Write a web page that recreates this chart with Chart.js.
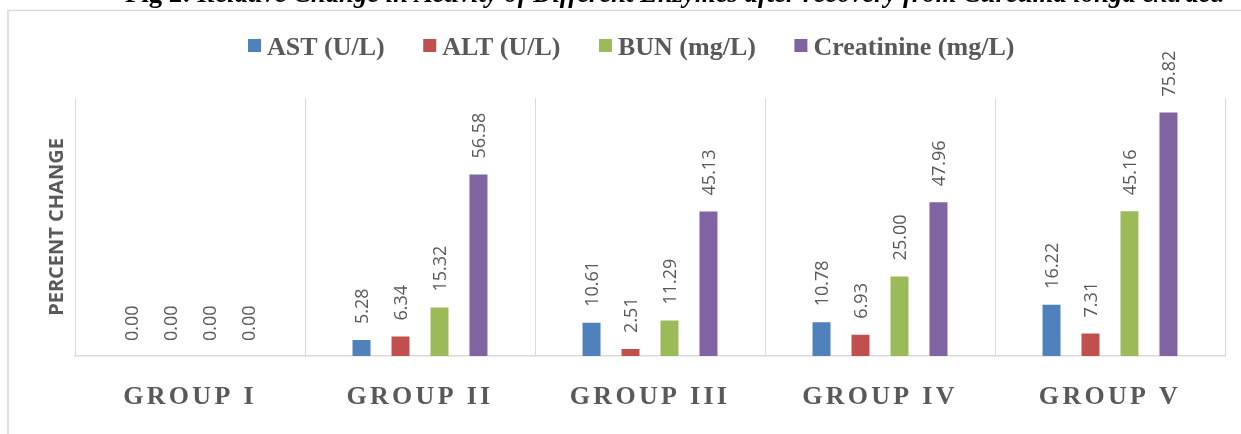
<!DOCTYPE html>
<html>
<head>
<meta charset="utf-8">
<script src="https://cdn.jsdelivr.net/npm/chart.js@4.4.0/dist/chart.umd.min.js"></script>
<style>
html,body{margin:0;padding:0;background:#fff;overflow:hidden}
#wrap{width:1241px;height:434px;position:relative}
canvas{display:block}
</style>
</head>
<body>
<div id="wrap"><canvas id="c" width="1241" height="434"></canvas></div>
<script>
// ---- data ----
const categories = ['GROUP I', 'GROUP II', 'GROUP III', 'GROUP IV', 'GROUP V'];
const seriesNames = ['AST (U/L)', 'ALT (U/L)', 'BUN (mg/L)', 'Creatinine (mg/L)'];
const astValues = [0.00, 5.28, 10.61, 10.78, 16.22];
const altValues = [0.00, 6.34, 2.51, 6.93, 7.31];
const bunValues = [0.00, 15.32, 11.29, 25.00, 45.16];
const creatinineValues = [0.00, 56.58, 45.13, 47.96, 75.82];
const seriesColors = ['#4F81BD', '#C0504D', '#9BBB59', '#8064A2'];
const yAxisTitle = 'PERCENT CHANGE';
const captionLead = 'Fig 2:';
const captionText = ' Relative Change in Activity of Different Enzymes after recovery from Curcuma longa extract.';

const seriesValues = [astValues, altValues, bunValues, creatinineValues];
const TEXT_GRAY = '#595959';
const GRID_GRAY = '#D9D9D9';

// frame + (cropped) caption
const framePlugin = {
  id: 'frame',
  beforeDraw(chart) {
    const ctx = chart.ctx;
    ctx.save();
    ctx.fillStyle = '#fff';
    ctx.fillRect(0, 0, chart.width, chart.height);
    ctx.strokeStyle = GRID_GRAY;
    ctx.lineWidth = 1.5;
    ctx.beginPath();
    ctx.moveTo(8, chart.height);
    ctx.lineTo(8, 10.5);
    ctx.lineTo(chart.width, 10.5);
    ctx.stroke();
    // caption (mostly cut off at the top edge)
    const leadFont = 'bold 24px "Liberation Serif"';
    const restFont = 'italic bold 24px "Liberation Serif"';
    ctx.font = leadFont; const w1 = ctx.measureText(captionLead).width;
    ctx.font = restFont; const w2 = ctx.measureText(captionText).width;
    const scale = 1100 / (w1 + w2);
    const fs = 24 * scale;
    ctx.fillStyle = '#000';
    ctx.textBaseline = 'alphabetic';
    ctx.textAlign = 'left';
    ctx.font = 'bold ' + fs + 'px "Liberation Serif"';
    ctx.fillText(captionLead, 125, 1.5);
    ctx.font = 'italic bold ' + fs + 'px "Liberation Serif"';
    ctx.fillText(captionText, 125 + w1 * scale, 1.5);
    ctx.restore();
    // letter-spaced category labels on x axis
    const sx = chart.scales.x;
    if (sx && !sx._lsWrapped) {
      const orig = sx.drawLabels;
      sx.drawLabels = function (area) {
        const c = this.ctx;
        const prev = c.letterSpacing;
        c.letterSpacing = '3.3px';
        orig.call(this, area);
        c.letterSpacing = prev || '0px';
      };
      sx._lsWrapped = true;
    }
  }
};

// custom legend row
const legendPlugin = {
  id: 'customLegend',
  afterDraw(chart) {
    const ctx = chart.ctx;
    ctx.save();
    ctx.font = 'bold 26px "Liberation Serif"';
    ctx.textBaseline = 'alphabetic';
    ctx.textAlign = 'left';
    let x = 248;
    chart.data.datasets.forEach((ds) => {
      ctx.fillStyle = ds.backgroundColor;
      ctx.fillRect(x, 39, 13, 13);
      ctx.fillStyle = TEXT_GRAY;
      const tx = x + 19;
      ctx.fillText(ds.label, tx, 55);
      x = tx + ctx.measureText(ds.label).width + 38.5;
    });
    ctx.restore();
  }
};

// rotated value labels above bars
const valueLabelPlugin = {
  id: 'valueLabels',
  afterDatasetsDraw(chart) {
    const ctx = chart.ctx;
    ctx.save();
    ctx.font = '18px "Open Sans"';
    ctx.fillStyle = TEXT_GRAY;
    ctx.textAlign = 'left';
    ctx.textBaseline = 'middle';
    chart.data.datasets.forEach((ds, di) => {
      const meta = chart.getDatasetMeta(di);
      meta.data.forEach((bar, i) => {
        ctx.save();
        ctx.translate(bar.x + 1.5, bar.y - 15);
        ctx.rotate(-Math.PI / 2);
        ctx.fillText(Number(ds.data[i]).toFixed(2), 0, 0);
        ctx.restore();
      });
    });
    ctx.restore();
  }
};

new Chart(document.getElementById('c'), {
  type: 'bar',
  data: {
    labels: categories,
    datasets: seriesNames.map((name, i) => ({
      label: name,
      data: seriesValues[i],
      backgroundColor: seriesColors[i],
      borderColor: 'rgba(255,255,255,0.35)',
      borderWidth: 1,
      categoryPercentage: 0.678,
      barPercentage: 0.513
    }))
  },
  options: {
    responsive: false,
    animation: false,
    devicePixelRatio: 1,
    layout: { padding: { top: 98, left: 8, right: 16, bottom: 0 } },
    plugins: {
      legend: { display: false },
      title: { display: false },
      tooltip: { enabled: false }
    },
    scales: {
      x: {
        offset: true,
        grid: { display: true, offset: true, color: GRID_GRAY, lineWidth: 1, drawTicks: false },
        border: { display: true, color: GRID_GRAY, width: 1.5 },
        ticks: {
          autoSkip: false, maxRotation: 0, minRotation: 0,
          padding: 26,
          color: TEXT_GRAY,
          font: { family: '"Liberation Serif"', weight: 'bold', size: 26 }
        },
        afterFit(scale) { scale.height = 78; }
      },
      y: {
        min: 0, max: 80,
        grid: { display: false, drawTicks: false },
        border: { display: false },
        ticks: { display: false },
        title: {
          display: true,
          text: yAxisTitle,
          color: TEXT_GRAY,
          font: { family: '"Open Sans"', weight: 'bold', size: 20 },
          padding: { top: 37, bottom: 6 }
        },
        afterFit(scale) { scale.width = 67; }
      }
    }
  },
  plugins: [framePlugin, legendPlugin, valueLabelPlugin]
});
</script>
</body>
</html>
